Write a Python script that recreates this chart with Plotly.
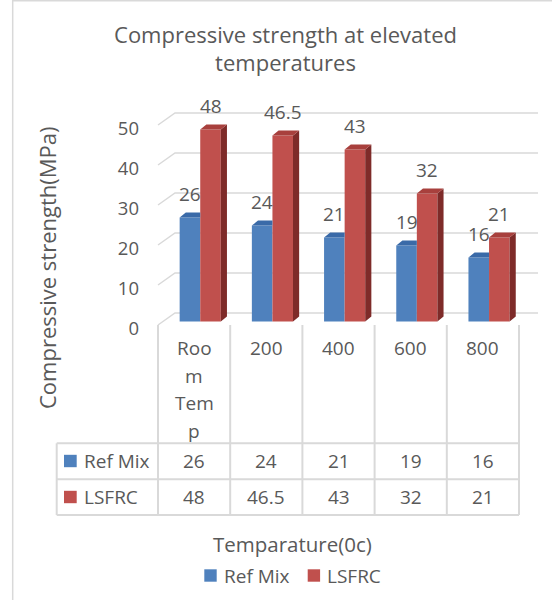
import plotly.graph_objects as go

# ---------------- data ----------------
categories = ["Room Temp", "200", "400", "600", "800"]
series_names = ["Ref Mix", "LSFRC"]
ref_mix = [26, 24, 21, 19, 16]
lsfrc = [48, 46.5, 43, 32, 21]
y_ticks = [0, 10, 20, 30, 40, 50]

title_text = "Compressive strength at elevated<br>temperatures"
y_title = "Compressive strength(MPa)"
x_title = "Temparature(0c)"

# ---------------- geometry / style ----------------
W, H = 552, 600
CAT_W = 72.2       # pixels per category band
X0_PX = 194.1      # pixel centre of first category band
ZERO_PX = 321.5    # pixel row of value 0 for the bars
PX_PER_UNIT = 4.0  # pixels per MPa


def xu(px):
    return (px - X0_PX) / CAT_W


def yu(py):
    return (ZERO_PX - py) / PX_PER_UNIT


def xp(px):
    return px / W


def yp(py):
    return 1 - py / H


FONT = "Open Sans"
TEXT = "#595959"
GRID = "#D9D9D9"
BLUE, BLUE_TOP = "#4F81BD", "#3A6AA8"
RED, RED_TOP, RED_SIDE = "#C0504D", "#A8403D", "#7E2B29"

BAR_W = 0.285
OFFS = [-0.20, 0.085]
DX = 0.085   # depth offset (category units)
DY = 1.25    # depth offset (value units)

x_idx = list(range(len(categories)))

fig = go.Figure()

# front faces
fig.add_bar(x=x_idx, y=ref_mix, name=series_names[0], width=BAR_W, offset=OFFS[0],
            marker=dict(color=BLUE, line=dict(width=0)), hoverinfo="skip")
fig.add_bar(x=x_idx, y=lsfrc, name=series_names[1], width=BAR_W, offset=OFFS[1],
            marker=dict(color=RED, line=dict(width=0)), hoverinfo="skip")

# 3D top / side faces, computed from the values
bx, by = [], []
for i, v in zip(x_idx, ref_mix):
    x0 = i + OFFS[0]
    x1 = x0 + BAR_W
    bx += [x0, x0 + DX, x1, x1, x0, None]
    by += [v, v + DY, v + DY, v, v, None]
fig.add_scatter(x=bx, y=by, mode="lines", fill="toself", fillcolor=BLUE_TOP,
                line=dict(width=0, color=BLUE_TOP), showlegend=False, hoverinfo="skip")

rtx, rty, rsx, rsy = [], [], [], []
for i, v in zip(x_idx, lsfrc):
    x0 = i + OFFS[1]
    x1 = x0 + BAR_W
    rtx += [x0, x0 + DX, x1 + DX, x1, x0, None]
    rty += [v, v + DY, v + DY, v, v, None]
    rsx += [x1, x1, x1 + DX, x1 + DX, x1, None]
    rsy += [0, v, v + DY, DY, 0, None]
fig.add_scatter(x=rsx, y=rsy, mode="lines", fill="toself", fillcolor=RED_SIDE,
                line=dict(width=0, color=RED_SIDE), showlegend=False, hoverinfo="skip")
fig.add_scatter(x=rtx, y=rty, mode="lines", fill="toself", fillcolor=RED_TOP,
                line=dict(width=0, color=RED_TOP), showlegend=False, hoverinfo="skip")

shapes = []
annotations = []


def label(x, y, text, size=19, xref="x", yref="y", xanchor="center", **kw):
    d = dict(x=x, y=y, xref=xref, yref=yref, text=text, showarrow=False,
             xanchor=xanchor, yanchor="middle",
             font=dict(family=FONT, size=size, color=TEXT))
    d.update(kw)
    annotations.append(d)


# back-wall gridlines (3D)
FRONT_DY = yu(325)
BACK_DY = yu(313)
for t in y_ticks:
    shapes.append(dict(type="path", xref="x", yref="y", layer="below",
                       path=f"M {-0.5},{t + FRONT_DY} L {xu(175)},{t + BACK_DY} L {xu(538)},{t + BACK_DY}",
                       line=dict(color=GRID, width=1.5)))

# data labels
for vals, off in [(ref_mix, OFFS[0]), (lsfrc, OFFS[1])]:
    for i, v in zip(x_idx, vals):
        label(i + off + BAR_W / 2, v, f"{v:g}", yshift=24)

# data table
TBL_TOP, ROW1, ROW2, TBL_BOT = 325, 443.3, 479.3, 515
TBL_LEFT = xu(56.7)
n = len(categories)
for k in range(n + 1):
    shapes.append(dict(type="line", xref="x", yref="y", layer="below",
                       x0=k - 0.5, x1=k - 0.5, y0=yu(TBL_TOP), y1=yu(TBL_BOT),
                       line=dict(color=GRID, width=2)))
shapes.append(dict(type="line", xref="x", yref="y", layer="below",
                   x0=TBL_LEFT, x1=TBL_LEFT, y0=yu(ROW1), y1=yu(TBL_BOT),
                   line=dict(color=GRID, width=2)))
for py in (ROW1, ROW2, TBL_BOT):
    shapes.append(dict(type="line", xref="x", yref="y", layer="below",
                       x0=TBL_LEFT, x1=n - 0.5, y0=yu(py), y1=yu(py),
                       line=dict(color=GRID, width=2)))


def wrap(text, width=3):
    out = []
    for word in text.split():
        while len(word) > width:
            out.append(word[:width])
            word = word[width:]
        out.append(word)
    return out


for i, cat in zip(x_idx, categories):
    for j, line in enumerate(wrap(cat)):
        label(i, yu(348 + 27.7 * j), line)

row_y = [461, 497]
row_cols = [BLUE, RED]
for vals, ry, col, name in zip([ref_mix, lsfrc], row_y, row_cols, series_names):
    for i, v in zip(x_idx, vals):
        label(i, yu(ry), f"{v:g}")
    shapes.append(dict(type="rect", xref="paper", yref="paper",
                       x0=xp(64), x1=xp(76.7), y0=yp(ry - 6.2), y1=yp(ry + 6.2),
                       fillcolor=col, line=dict(width=0)))
    label(xp(82), yp(ry), name, xref="paper", yref="paper", xanchor="left")

# bottom legend
leg_y = 575.5
leg_items = [(204.3, 221.5), (307.7, 325.0)]
for (sx, tx), col, name in zip(leg_items, row_cols, series_names):
    shapes.append(dict(type="rect", xref="paper", yref="paper",
                       x0=xp(sx), x1=xp(sx + 12.4), y0=yp(leg_y - 6.2), y1=yp(leg_y + 6.2),
                       fillcolor=col, line=dict(width=0)))
    label(xp(tx), yp(leg_y), name, xref="paper", yref="paper", xanchor="left")

# axis titles
label(xp(292), yp(543.5), x_title, size=20.5, xref="paper", yref="paper")
label(xp(47), yp(268), y_title, size=22, xref="paper", yref="paper", textangle=-90)

# chart border (left and top)
shapes.append(dict(type="line", xref="paper", yref="paper", x0=xp(12.7), x1=xp(12.7),
                   y0=0, y1=1, line=dict(color=GRID, width=1.5)))
shapes.append(dict(type="line", xref="paper", yref="paper", x0=xp(12.7), x1=1,
                   y0=yp(0.8), y1=yp(0.8), line=dict(color=GRID, width=1.5)))

fig.update_layout(
    width=W, height=H,
    margin=dict(l=0, r=0, t=0, b=0),
    paper_bgcolor="white", plot_bgcolor="white",
    barmode="overlay",
    showlegend=False,
    font=dict(family=FONT, color=TEXT),
    title=dict(text=title_text, x=xp(285.5), xanchor="center", y=yp(42.5),
               yanchor="middle", yref="container",
               font=dict(family=FONT, size=22, color=TEXT)),
    xaxis=dict(range=[xu(0), xu(W)], visible=False, fixedrange=True),
    yaxis=dict(range=[yu(H), yu(0)], anchor="free", position=xp(158), side="left",
               tickvals=y_ticks, showgrid=False, zeroline=False, showline=False,
               ticks="", automargin=False, fixedrange=True,
               ticklabelstandoff=19, ticklabelshift=7,
               tickfont=dict(family=FONT, size=18.5, color=TEXT)),
    shapes=shapes,
    annotations=annotations,
)

fig.write_html("out.html")
